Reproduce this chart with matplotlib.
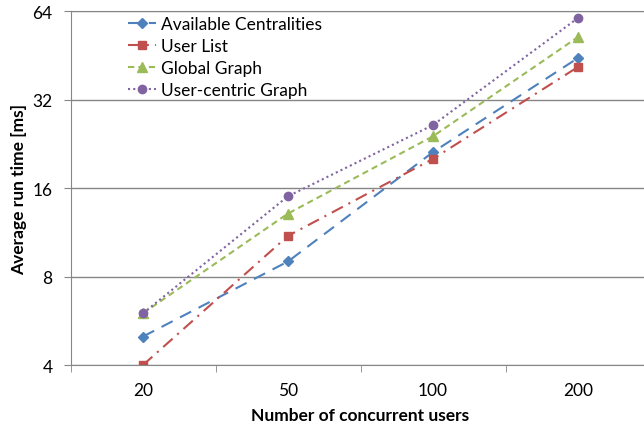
import numpy as np
import matplotlib.pyplot as plt
from matplotlib.ticker import FixedLocator, NullFormatter

plt.rcParams['font.family'] = ['Lato', 'DejaVu Sans']

users = ['20', '50', '100', '200']
available = [5.0, 9.0, 21.2, 44.3]
user_list = [4.0, 11.0, 20.1, 41.3]
global_graph = [6.0, 13.1, 24.0, 52.2]
user_centric = [6.0, 15.0, 26.2, 60.6]

fig = plt.figure(figsize=(6.44, 4.35), dpi=100)
ax = fig.add_axes([0.1095, 0.1586, 0.9006, 0.8138])

x = np.arange(len(users))
ax.plot(x, available, color='#4F81BD', linestyle=(0, (6, 4)), lw=1.5,
        marker='D', ms=5, label='Available Centralities')
ax.plot(x, user_list, color='#C0504D', linestyle=(0, (6, 3, 1, 3)), lw=1.5,
        marker='s', ms=6, label='User List')
ax.plot(x, global_graph, color='#9BBB59', linestyle=(0, (3, 2)), lw=1.5,
        marker='^', ms=7, label='Global Graph')
ax.plot(x, user_centric, color='#8064A2', linestyle=(0, (1, 1.5)), lw=1.5,
        marker='o', ms=6, label='User-centric Graph')

ax.set_yscale('log', base=2)
ax.set_ylim(4, 64)
ax.set_yticks([4, 8, 16, 32, 64])
ax.set_yticklabels(['4', '8', '16', '32', '64'])
ax.yaxis.set_minor_locator(FixedLocator([]))
ax.grid(axis='y', color='#868686', lw=1)
ax.set_axisbelow(True)

ax.set_xlim(-0.5, 3.5)
ax.set_xticks(x)
ax.set_xticklabels(users)
ax.xaxis.set_minor_locator(FixedLocator([-0.5, 0.5, 1.5, 2.5, 3.5]))
ax.xaxis.set_minor_formatter(NullFormatter())
ax.tick_params(axis='x', which='major', length=0, pad=12, labelsize=12.5)
ax.tick_params(axis='x', which='minor', length=5, color='#868686')
ax.tick_params(axis='y', which='major', length=5, color='#868686', labelsize=12.5, pad=8)

ax.spines['right'].set_visible(False)
for s in ['left', 'bottom', 'top']:
    ax.spines[s].set_color('#868686')

ax.set_xlabel('Number of concurrent users', fontweight='bold', fontsize=12.5, labelpad=7)
ax.set_ylabel('Average run time [ms]', fontweight='bold', fontsize=12.5, labelpad=4)

ax.legend(loc='upper left', bbox_to_anchor=(0.085, 1.01), frameon=False,
          fontsize=12.5, handlelength=1.6, handletextpad=0.25, labelspacing=0.35,
          borderaxespad=0.1)

fig.savefig('out.png', dpi=100)
